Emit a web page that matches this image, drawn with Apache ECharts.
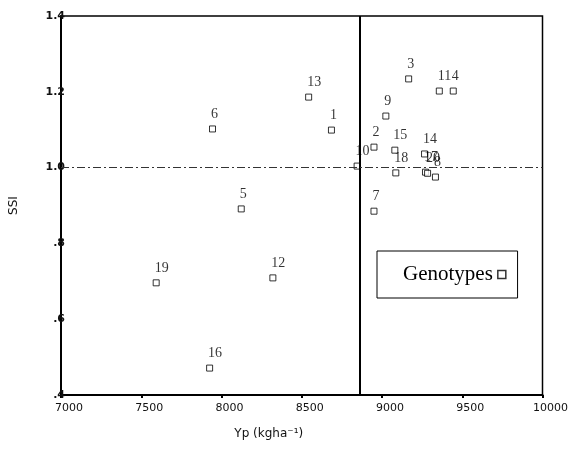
<!DOCTYPE html>
<html>
<head>
<meta charset="utf-8">
<script src="https://cdn.jsdelivr.net/npm/echarts@6/dist/echarts.min.js"></script>
<style>
  html, body { margin: 0; padding: 0; background: #fff; }
  #chart { width: 571px; height: 458px; }
</style>
</head>
<body>
<div id="chart"></div>
<script>
// genotype numbers and their yield potential (Yp) / stress susceptibility index (SSI)
var genotypes = ['1', '2', '3', '4', '5', '6', '7', '8', '9', '10',
                 '11', '12', '13', '14', '15', '16', '17', '18', '19', '20'];
var yp = [8685, 8950, 9166, 9444, 8123, 7944, 8950, 9333, 9024, 8845,
          9357, 8320, 8543, 9265, 9080, 7926, 9271, 9086, 7593, 9284];
var ssi = [1.099, 1.054, 1.234, 1.202, 0.891, 1.102, 0.885, 0.975, 1.136, 1.004,
           1.202, 0.709, 1.186, 1.036, 1.046, 0.471, 0.988, 0.986, 0.696, 0.985];

var xTickLabels = ['7000', '7500', '8000', '8500', '9000', '9500', '10000'];
var yTickLabels = ['.4', '.6', '.8', '1.0', '1.2', '1.4'];

// reference lines: mean Yp and SSI = 1
var ypMean = 8860;
var ssiRef = 1.0;

var myChart = echarts.init(document.getElementById('chart'));

var points = genotypes.map(function (g, i) {
    return { name: g, value: [yp[i], ssi[i]] };
});

var option = {
    backgroundColor: '#fff',
    animation: false,
    grid: {
        left: 61,
        right: 24,
        top: 16,
        bottom: 63,
        show: true,
        borderColor: '#000',
        borderWidth: 1.5
    },
    legend: {
        data: ['Genotypes'],
        left: 377,
        top: 251,
        align: 'right',
        icon: 'rect',
        itemWidth: 8,
        itemHeight: 8,
        itemGap: 6,
        padding: [13, 11, 13, 26],
        borderColor: '#000',
        borderWidth: 1,
        itemStyle: { color: '#fff', borderColor: '#000', borderWidth: 1.5 },
        textStyle: { fontFamily: 'Liberation Serif', fontSize: 21, color: '#000' }
    },
    xAxis: {
        type: 'value',
        min: 7000,
        max: 10000,
        interval: 500,
        name: 'Yp (kgha\u207B\u00B9)',
        nameLocation: 'middle',
        nameGap: 33,
        nameTextStyle: {
            fontFamily: 'DejaVu Sans', fontSize: 12, color: '#111',
            padding: [0, 66, 0, 0]
        },
        axisLine: { lineStyle: { color: '#000', width: 2 } },
        axisTick: { show: true, length: 3, lineStyle: { color: '#000', width: 2 } },
        splitLine: { show: false },
        axisLabel: {
            fontFamily: 'DejaVu Sans', fontSize: 11, color: '#111',
            margin: 8,
            padding: [0, 0, 0, 16],
            formatter: function (v, i) { return xTickLabels[i]; }
        }
    },
    yAxis: {
        type: 'value',
        min: 0.4,
        max: 1.4,
        interval: 0.2,
        name: 'SSI',
        nameLocation: 'middle',
        nameGap: 41,
        nameTextStyle: { fontFamily: 'DejaVu Sans', fontSize: 12, color: '#111' },
        axisLine: { lineStyle: { color: '#000', width: 2 } },
        axisTick: { show: false },
        splitLine: { show: false },
        axisLabel: {
            fontFamily: 'DejaVu Sans', fontSize: 11, fontWeight: 'bold', color: '#111',
            margin: -4,
            formatter: function (v, i) { return yTickLabels[i]; }
        }
    },
    series: [
        {
            name: 'Genotypes',
            type: 'scatter',
            symbol: 'rect',
            symbolSize: 6,
            itemStyle: { color: '#fff', borderColor: '#000', borderWidth: 1 },
            label: {
                show: true,
                position: [2, -18],
                formatter: '{b}',
                fontFamily: 'Liberation Serif',
                fontSize: 14,
                color: '#000'
            },
            data: points,
            markLine: {
                silent: true,
                symbol: 'none',
                label: { show: false },
                data: [
                    { xAxis: ypMean, lineStyle: { color: '#000', width: 2, type: 'solid' } },
                    { yAxis: ssiRef, lineStyle: { color: '#333', width: 1, type: [8, 3, 2, 3] } }
                ]
            }
        }
    ]
};

myChart.setOption(option);
</script>
</body>
</html>
